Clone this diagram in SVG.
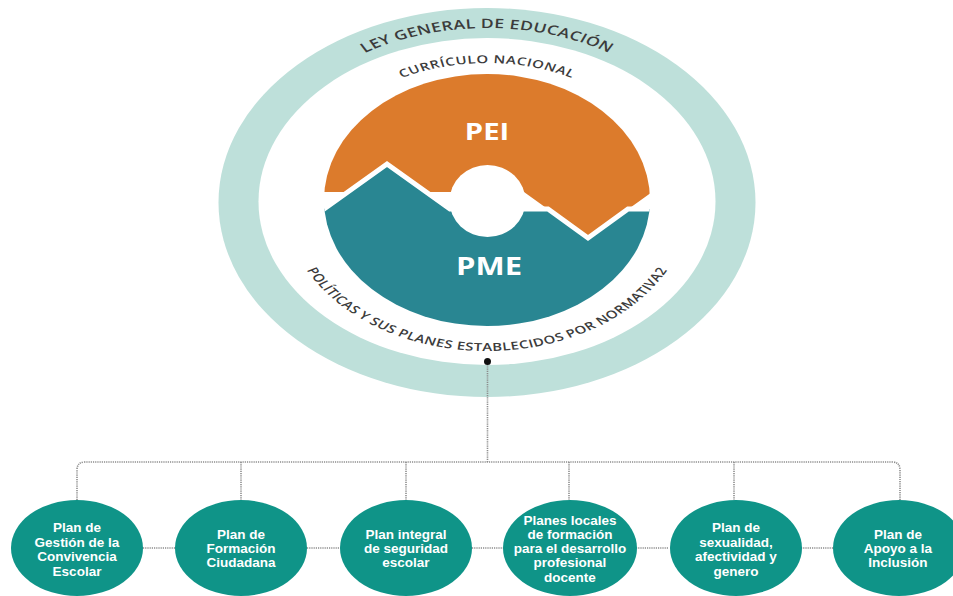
<svg xmlns="http://www.w3.org/2000/svg" width="953" height="596" viewBox="0 0 953 596">
<style>
.arc{font-family:"Open Sans","Liberation Sans",sans-serif;font-weight:600;fill:#3b3b3b}
.big{font-family:"Open Sans","Liberation Sans",sans-serif;font-weight:700;fill:#ffffff;text-anchor:middle}
.node ellipse{fill:#0f9488}
.node text{font-family:"Liberation Sans",Arial,sans-serif;font-weight:700;font-size:13.5px;fill:#ffffff;text-anchor:middle}
.dot{fill:none;stroke:#8c8c8c;stroke-width:1.6;stroke-dasharray:1.2 1}
</style>
<defs>
<clipPath id="pie"><ellipse cx="487" cy="200" rx="163" ry="126"/></clipPath>
<path id="arcLey" d="M -174,0 A 174,174 0 0,1 174,0"/>
<path id="arcCur" d="M -139,0 A 139,139 0 0,1 139,0"/>
<path id="arcPol" d="M -149,0 A 149,149 0 0,0 149,0"/>
</defs>
<rect width="953" height="596" fill="#ffffff"/>

<g id="ley-general">
<ellipse cx="487" cy="202.5" rx="268.5" ry="194.5" fill="#bee0da"/>
<ellipse cx="487" cy="201.5" rx="228.5" ry="163.5" fill="#ffffff"/>
</g>

<g id="pei-pme">
<g clip-path="url(#pie)">
<path d="M 300,60 H 680 V 192 H 652 L 588,238 L 524,192 H 300 Z" fill="#dc7b2c"/>
<path d="M 290,209 H 324 L 387,164 L 450,209 H 548 L 588,238 L 628,209 H 690 V 340 H 290 Z" fill="#298692" stroke="#ffffff" stroke-width="5" stroke-linejoin="miter"/>
</g>
<ellipse cx="487.5" cy="201" rx="38" ry="36" fill="#ffffff"/>
<text class="big" font-size="24" transform="translate(487,140) scale(1.22,1)">PEI</text>
<text class="big" font-size="25" transform="translate(489,275) scale(1.24,1)">PME</text>
</g>

<g id="arc-labels" transform="translate(487,202) scale(1.36,1)">
<text class="arc" font-size="13" letter-spacing="0.25" text-anchor="middle"><textPath href="#arcLey" startOffset="50%">LEY GENERAL DE EDUCACIÓN</textPath></text>
<text class="arc" font-size="11" letter-spacing="0.45" text-anchor="middle"><textPath href="#arcCur" startOffset="50%">CURRÍCULO NACIONAL</textPath></text>
<text class="arc" font-size="11" letter-spacing="0.3" text-anchor="middle"><textPath href="#arcPol" startOffset="50%">POLÍTICAS Y SUS PLANES ESTABLECIDOS POR NORMATIVA2</textPath></text>
</g>

<g id="connectors">
<path class="dot" d="M 487.5,362 V 462"/>
<path class="dot" d="M 77,500 V 470 Q 77,462 85,462 H 892 Q 900,462 900,470 V 500"/>
<path class="dot" d="M 241,462 V 500 M 406,462 V 500 M 569,462 V 500 M 734,462 V 500"/>
<path class="dot" d="M 143,548 H 175 M 307,548 H 340 M 472,548 H 504 M 636,548 H 669 M 801,548 H 834"/>
<circle cx="487.5" cy="361.5" r="3.5" fill="#111111"/>
</g>

<g id="n1" class="node">
<ellipse cx="77" cy="548" rx="66" ry="48"/>
<text x="77" y="532">Plan de</text>
<text x="77" y="547">Gestión de la</text>
<text x="77" y="561">Convivencia</text>
<text x="77" y="576">Escolar</text>
</g>
<g id="n2" class="node">
<ellipse cx="241" cy="548" rx="66" ry="48"/>
<text x="241" y="539">Plan de</text>
<text x="241" y="553">Formación</text>
<text x="241" y="567">Ciudadana</text>
</g>
<g id="n3" class="node">
<ellipse cx="406" cy="548" rx="66" ry="48"/>
<text x="406" y="539">Plan integral</text>
<text x="406" y="553">de seguridad</text>
<text x="406" y="567">escolar</text>
</g>
<g id="n4" class="node">
<ellipse cx="570" cy="548" rx="67" ry="48"/>
<text x="570" y="525">Planes locales</text>
<text x="570" y="539">de formación</text>
<text x="570" y="553">para el desarrollo</text>
<text x="570" y="567">profesional</text>
<text x="570" y="582">docente</text>
</g>
<g id="n5" class="node">
<ellipse cx="736" cy="548" rx="66" ry="48"/>
<text x="736" y="532">Plan de</text>
<text x="736" y="547">sexualidad,</text>
<text x="736" y="561">afectividad y</text>
<text x="736" y="576">genero</text>
</g>
<g id="n6" class="node">
<ellipse cx="899" cy="548" rx="66" ry="48"/>
<text x="898" y="539">Plan de</text>
<text x="898" y="553">Apoyo a la</text>
<text x="898" y="567">Inclusión</text>
</g>
</svg>
